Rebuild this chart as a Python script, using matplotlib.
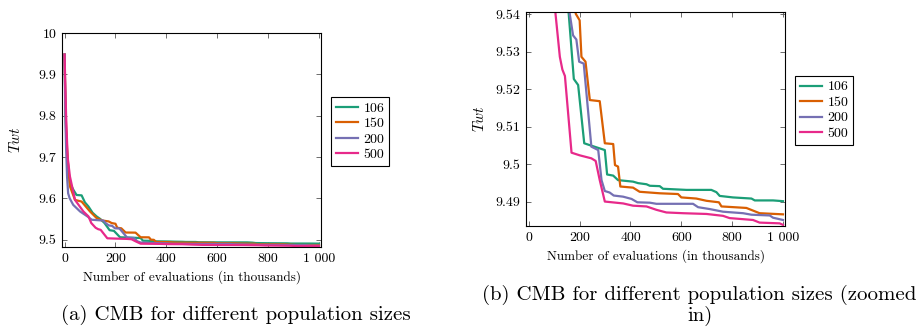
import matplotlib.pyplot as plt

plt.rcParams['font.family'] = ['cmr10', 'DejaVu Serif']
plt.rcParams['mathtext.fontset'] = 'cm'
plt.rcParams['axes.formatter.use_mathtext'] = True

# population size 106
x_106 = [0, 3, 6, 10, 15, 21, 35, 47, 67, 80, 94, 110, 126, 140, 157, 177, 194, 218, 240, 299, 308, 332,
         351, 410, 430, 463, 476, 515, 528, 620, 718, 738, 751, 803, 876, 889, 961, 1000]
y_106 = [9.948, 9.83, 9.76, 9.71, 9.67, 9.637, 9.62, 9.608, 9.607, 9.59, 9.580, 9.565, 9.556, 9.550, 9.540,
         9.5227, 9.5211, 9.5056, 9.5051, 9.5038, 9.4973, 9.4970, 9.4958, 9.4954, 9.4950, 9.4947, 9.4943,
         9.4942, 9.4935, 9.4932, 9.4932, 9.4926, 9.4916, 9.4912, 9.4909, 9.4904, 9.4904, 9.4902]
# population size 150
x_150 = [0, 3, 6, 10, 15, 21, 41, 67, 100, 126, 150, 173, 185, 200, 207, 223, 240, 279, 299, 332, 339, 351,
         360, 410, 436, 515, 587, 600, 659, 699, 748, 758, 856, 882, 908, 1000]
y_150 = [9.948, 9.84, 9.77, 9.72, 9.67, 9.629, 9.596, 9.592, 9.568, 9.552, 9.546, 9.544, 9.540, 9.5383,
         9.5286, 9.5273, 9.5171, 9.5168, 9.5056, 9.5054, 9.4998, 9.4994, 9.4941, 9.4938, 9.4927, 9.4923,
         9.4921, 9.4912, 9.4909, 9.4903, 9.4899, 9.4888, 9.4884, 9.4877, 9.4870, 9.4867]
# population size 200
x_200 = [0, 3, 6, 10, 14, 20, 34, 61, 90, 107, 153, 161, 174, 187, 198, 216, 246, 273, 286, 299, 318, 334,
         371, 404, 427, 476, 502, 646, 666, 712, 764, 843, 876, 948, 961, 1000]
y_200 = [9.948, 9.80, 9.72, 9.65, 9.612, 9.60, 9.584, 9.568, 9.556, 9.548, 9.546, 9.540, 9.5343, 9.5332,
         9.5273, 9.5268, 9.5047, 9.5038, 9.4958, 9.4929, 9.4925, 9.4917, 9.4914, 9.4908, 9.4899, 9.4898,
         9.4895, 9.4895, 9.4886, 9.4881, 9.4874, 9.4870, 9.4866, 9.4864, 9.4858, 9.4852]
# population size 500
x_500 = [0, 3, 6, 8, 12, 21, 41, 74, 94, 105, 122, 132, 142, 168, 200, 246, 263, 279, 299, 371, 410, 463,
         502, 541, 607, 699, 764, 790, 882, 908, 987, 1000]
y_500 = [9.948, 9.87, 9.80, 9.766, 9.70, 9.653, 9.596, 9.568, 9.556, 9.540, 9.5286, 9.5252, 9.5235,
         9.5031, 9.5024, 9.5016, 9.5009, 9.4958, 9.4901, 9.4896, 9.4890, 9.4888, 9.4879, 9.4872, 9.4870,
         9.4868, 9.4863, 9.4857, 9.4852, 9.4845, 9.4843, 9.4839]

series = [("106", x_106, y_106, "#1b9e77"),
          ("150", x_150, y_150, "#d95f02"),
          ("200", x_200, y_200, "#7570b3"),
          ("500", x_500, y_500, "#e7298a")]

xticks = [0, 200, 400, 600, 800, 1000]
xtick_labels = ["0", "200", "400", "600", "800", "1 000"]
yticks_a = [9.5, 9.6, 9.7, 9.8, 9.9, 10.0]
ytick_labels_a = ["9.5", "9.6", "9.7", "9.8", "9.9", "10"]
yticks_b = [9.49, 9.50, 9.51, 9.52, 9.53, 9.54]
ytick_labels_b = ["9.49", "9.5", "9.51", "9.52", "9.53", "9.54"]

fig = plt.figure(figsize=(9.23, 3.27), dpi=100)
ax0 = fig.add_axes([0.0672, 0.2446, 0.2806, 0.6544])
ax1 = fig.add_axes([0.5702, 0.3089, 0.2803, 0.6553])

for ax in (ax0, ax1):
    for name, xs, ys, c in series:
        ax.plot(xs, ys, color=c, lw=1.6, label=name)
    ax.set_xticks(xticks, xtick_labels)
    ax.set_xlim(-10, 1008)
    ax.tick_params(direction='in', top=True, right=True, length=3.5, width=0.6,
                   color='#555555', labelsize=10, pad=4)
    for s in ax.spines.values():
        s.set_linewidth(0.8)
    ax.set_xlabel("Number of evaluations (in thousands)", fontsize=9.5, labelpad=4)
    ax.set_ylabel("$Twt$", fontsize=11)
    ax.yaxis.set_label_coords(-0.151, 0.5)
    leg = ax.legend(loc='center left', bbox_to_anchor=(1.038, 0.54), borderaxespad=0, fontsize=10,
                    fancybox=False, edgecolor='black', framealpha=1, handlelength=1.6,
                    handletextpad=0.4, borderpad=0.35, labelspacing=0.2)
    leg.get_frame().set_linewidth(0.8)

ax0.set_yticks(yticks_a, ytick_labels_a)
ax0.set_ylim(9.482, 10.0)
ax1.set_yticks(yticks_b, ytick_labels_b)
ax1.set_ylim(9.4836, 9.5406)

fig.text(0.256, 0.037, "(a) CMB for different population sizes", ha='center', va='center', fontsize=15)
fig.text(0.758, 0.098, "(b) CMB for different population sizes (zoomed", ha='center', va='center', fontsize=15)
fig.text(0.758, 0.034, "in)", ha='center', va='center', fontsize=15)

fig.savefig("out.png", dpi=100)
